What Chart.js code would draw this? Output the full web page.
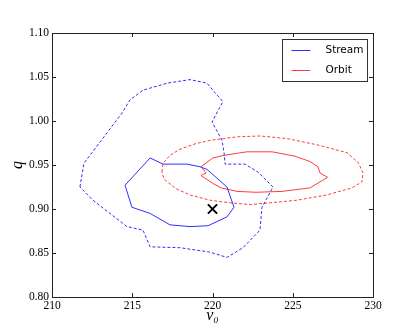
<!DOCTYPE html>
<html>
<head>
<meta charset="utf-8">
<script src="https://cdn.jsdelivr.net/npm/chart.js@4/dist/chart.umd.min.js"></script>
<style>
    html, body { margin: 0; padding: 0; background: #fff; }
    #wrap { width: 415px; height: 332px; }
</style>
</head>
<body>
<div id="wrap"><canvas id="chart_contours"></canvas></div>
<script>
// contururi (v0, q)
var stream_inner_v = [214.55, 216.11, 216.92, 218.41, 219.22, 219.66, 220.90, 221.34, 220.90, 219.72, 218.60, 217.35, 216.11, 214.98];
var stream_inner_q = [0.927, 0.958, 0.951, 0.951, 0.948, 0.945, 0.925, 0.902, 0.891, 0.881, 0.880, 0.882, 0.895, 0.902];

var stream_outer_v = [211.74, 211.99, 214.36, 214.86, 215.67, 217.17, 218.60, 219.66, 220.16, 220.65, 219.97, 220.59, 220.72, 220.78,
    222.02, 222.83, 223.77, 223.08, 222.96, 221.90, 220.90, 219.84, 217.98, 216.11, 215.67, 214.67, 213.61, 212.55];
var stream_outer_q = [0.925, 0.952, 1.009, 1.024, 1.035, 1.043, 1.047, 1.043, 1.032, 1.022, 0.999, 0.978, 0.964, 0.951,
    0.951, 0.942, 0.925, 0.902, 0.876, 0.856, 0.845, 0.851, 0.856, 0.857, 0.876, 0.880, 0.895, 0.910];

var orbit_inner_v = [219.28, 220.03, 220.72, 222.15, 223.71, 225.14, 226.07, 226.57, 226.70, 227.17, 226.07, 224.33, 222.71, 221.53,
    220.53, 220.03, 219.28, 219.60];
var orbit_inner_q = [0.948, 0.958, 0.961, 0.965, 0.965, 0.960, 0.954, 0.948, 0.941, 0.936, 0.924, 0.920, 0.919, 0.920,
    0.924, 0.929, 0.938, 0.941];

var orbit_outer_v = [216.85, 216.92, 217.35, 217.98, 218.91, 219.84, 221.53, 222.96, 224.64, 226.51, 228.38, 229.07, 229.38, 229.31,
    228.69, 227.13, 225.26, 223.58, 222.34, 221.09, 219.84, 218.60, 217.73, 216.98];
var orbit_outer_q = [0.942, 0.952, 0.961, 0.968, 0.974, 0.978, 0.982, 0.983, 0.980, 0.973, 0.964, 0.953, 0.941, 0.931,
    0.924, 0.916, 0.910, 0.907, 0.905, 0.907, 0.910, 0.916, 0.923, 0.934];

var true_v = [220];
var true_q = [0.90];

var series_names = ['Stream', 'Orbit'];
var series_colors = ['#2f2fff', '#ff3b3b'];

var x_min = 210, x_max = 230, x_step = 5;
var y_min = 0.80, y_max = 1.10, y_step = 0.05;

// facem poligon inchis din doua liste
function toPolygon(vs, qs) {
    var pts = [];
    for (var i = 0; i < vs.length; ++i) {
        pts.push({ x: vs[i], y: qs[i] });
    }
    pts.push({ x: vs[0], y: qs[0] });
    return pts;
}

function contourDataset(vs, qs, color, dashed) {
    return {
        data: toPolygon(vs, qs),
        showLine: true,
        borderColor: color,
        borderWidth: 1,
        borderDash: dashed ? [3, 2] : [],
        pointRadius: 0,
        fill: false,
        tension: 0
    };
}

var serif = '"Liberation Serif", "DejaVu Serif", serif';

// ticks spre interior pe toate laturile + rama + legenda
var frame_plugin = {
    id: 'frame_plugin',
    afterDraw: function (chart) {
        var ctx = chart.ctx;
        var a = chart.chartArea;
        var xs = chart.scales.x, ys = chart.scales.y;
        ctx.save();
        ctx.strokeStyle = '#222';
        ctx.lineWidth = 1;
        ctx.strokeRect(Math.round(a.left) + 0.5, Math.round(a.top) + 0.5, Math.round(a.right - a.left), Math.round(a.bottom - a.top));
        ctx.beginPath();
        xs.ticks.forEach(function (t) {
            var px = Math.round(xs.getPixelForValue(t.value)) + 0.5;
            ctx.moveTo(px, a.bottom); ctx.lineTo(px, a.bottom - 4);
            ctx.moveTo(px, a.top); ctx.lineTo(px, a.top + 4);
        });
        ys.ticks.forEach(function (t) {
            var py = Math.round(ys.getPixelForValue(t.value)) + 0.5;
            ctx.moveTo(a.left, py); ctx.lineTo(a.left + 4, py);
            ctx.moveTo(a.right, py); ctx.lineTo(a.right - 4, py);
        });
        ctx.stroke();

        // legenda
        var bx = Math.round(a.right) - 91 + 0.5, by = Math.round(a.top) + 6 + 0.5;
        ctx.fillStyle = '#fff';
        ctx.fillRect(bx, by, 85, 42);
        ctx.strokeStyle = '#333';
        ctx.strokeRect(bx, by, 85, 42);
        ctx.font = '10.5px "DejaVu Sans"';
        ctx.textBaseline = 'middle';
        ctx.textAlign = 'left';
        for (var i = 0; i < series_names.length; ++i) {
            var ly = Math.round(by + 10 + i * 20) + 0.5;
            ctx.strokeStyle = series_colors[i];
            ctx.beginPath();
            ctx.moveTo(bx + 9, ly); ctx.lineTo(bx + 28, ly);
            ctx.stroke();
            ctx.fillStyle = '#000';
            ctx.fillText(series_names[i], bx + 43, ly);
        }
        ctx.restore();
    }
};

var chart_ctx = document.getElementById('chart_contours').getContext('2d');
var chart_config = {
    type: 'scatter',
    data: {
        datasets: [
            contourDataset(stream_outer_v, stream_outer_q, series_colors[0], true),
            contourDataset(stream_inner_v, stream_inner_q, series_colors[0], false),
            contourDataset(orbit_outer_v, orbit_outer_q, series_colors[1], true),
            contourDataset(orbit_inner_v, orbit_inner_q, series_colors[1], false),
            {
                data: toPolygon(true_v, true_q).slice(0, 1),
                pointStyle: 'crossRot',
                pointRadius: 6.5,
                borderColor: '#000',
                borderWidth: 2,
                showLine: false
            }
        ]
    },
    options: {
        responsive: true,
        maintainAspectRatio: false,
        animation: false,
        layout: { padding: { top: 33, right: 42, left: 0, bottom: 0 } },
        plugins: { legend: { display: false }, tooltip: { enabled: false } },
        scales: {
            x: {
                type: 'linear',
                min: x_min, max: x_max,
                grid: { display: false, drawTicks: false },
                border: { display: false },
                ticks: { stepSize: x_step, color: '#000', padding: 2, font: { family: serif, size: 11.5 } },
                title: { display: true, text: 'v\u2080', color: '#000', padding: { top: 0, bottom: 7 }, font: { family: serif, size: 16, style: 'italic' } },
                afterFit: function (s) { s.height = 35; }
            },
            y: {
                type: 'linear',
                min: y_min, max: y_max,
                grid: { display: false, drawTicks: false },
                border: { display: false },
                ticks: {
                    stepSize: y_step, color: '#000', padding: 3, font: { family: serif, size: 11.5 },
                    callback: function (v) { return v.toFixed(2); }
                },
                title: { display: true, text: 'q', color: '#000', padding: { top: 8, bottom: 0 }, font: { family: serif, size: 16, style: 'italic' } },
                afterFit: function (s) { s.width = 52; }
            }
        }
    },
    plugins: [frame_plugin]
};

var contour_chart = new Chart(chart_ctx, chart_config);
</script>
</body>
</html>
